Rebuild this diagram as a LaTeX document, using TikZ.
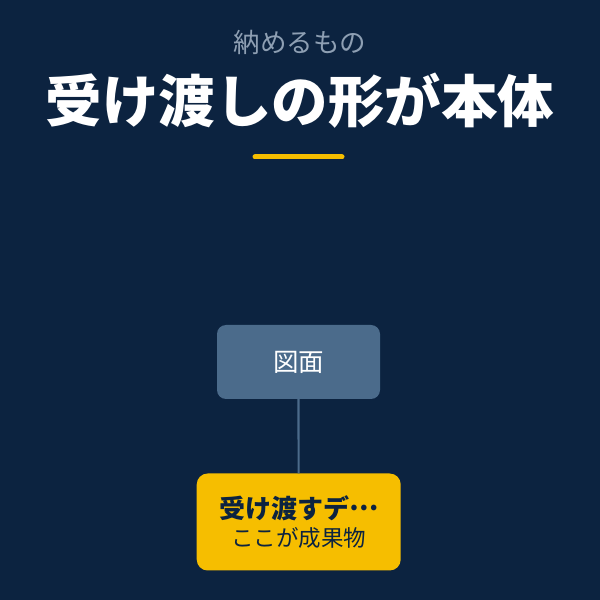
\documentclass[tikz,border=0pt]{standalone}
\usepackage{fontspec}
\setmainfont{Noto Sans CJK JP}
\usetikzlibrary{positioning}
\definecolor{navy}{HTML}{0C2340}
\definecolor{steel}{HTML}{4B6B8B}
\definecolor{gold}{HTML}{F6BE00}
\definecolor{mist}{HTML}{8E9FB3}
\tikzset{
  part/.style={rounded corners=9pt, fill=steel, text=white, minimum width=163pt, minimum height=74pt, font=\fontsize{25.5}{28}\selectfont},
  result/.style={rounded corners=11pt, fill=gold, text=navy, minimum width=204pt, minimum height=97pt, align=center},
  link/.style={draw=steel, line width=2.2pt}
}

\begin{document}
\begin{tikzpicture}[x=1pt,y=1pt]
\fill[navy] (0,0) rectangle (600,600);
\useasboundingbox (0,0) rectangle (600,600);
% heading
\node[text=mist, font=\fontsize{26.5}{30}\selectfont] (kicker) at (300,558) {納めるもの};
\node[text=white, font=\fontsize{56.5}{62}\selectfont\bfseries] (headline) at (300,499) {受け渡しの形が本体};
\coordinate (ruleL) at (255,443);
\coordinate (ruleR) at (342,443);
\draw[gold, line width=5pt, line cap=round] (ruleL) -- (ruleR);
% boxes
\node[part] (drawing) at (298.5,238) {図面};
\node[result] (deliver) at (298.7,78) {{\fontsize{26}{30}\selectfont\bfseries 受け渡すデ\raisebox{0.3em}{…}}\\[5pt]{\fontsize{22.5}{26}\selectfont ここが成果物}};
\draw[link] (drawing) -- (deliver);
\end{tikzpicture}
\end{document}
